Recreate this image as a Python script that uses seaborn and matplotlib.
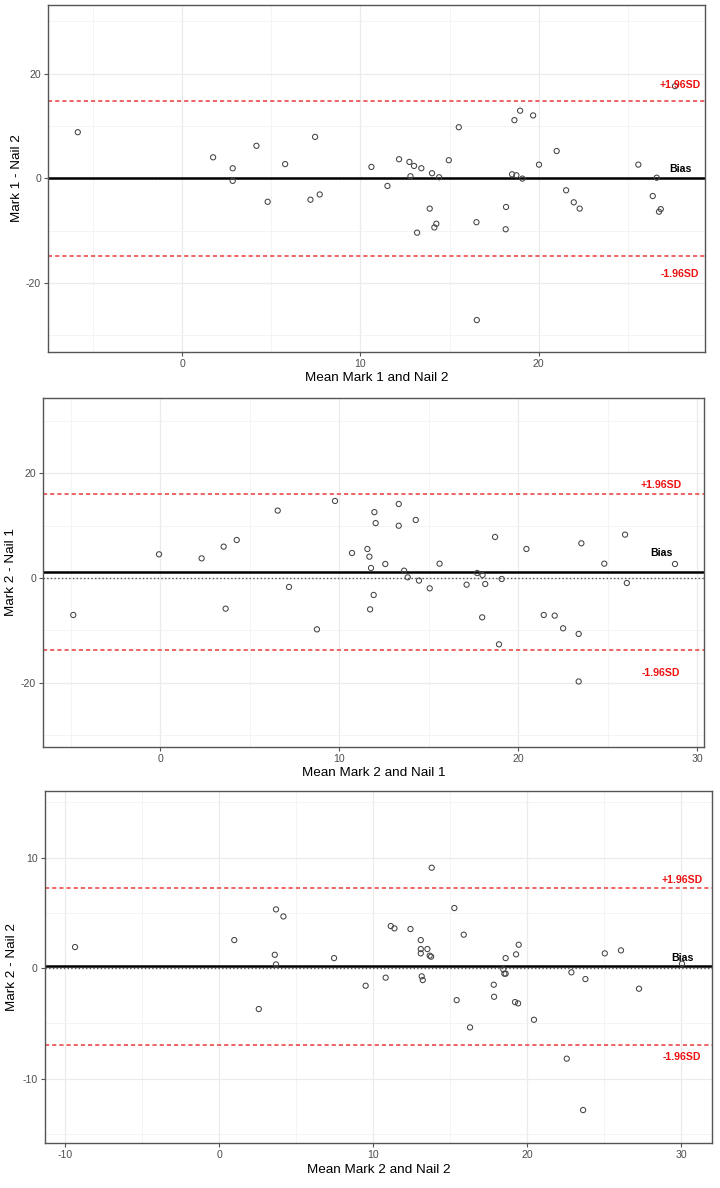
import numpy as np
import pandas as pd
import matplotlib
matplotlib.use("Agg")
import matplotlib.pyplot as plt
from matplotlib.ticker import MultipleLocator
import seaborn as sns

# Panel 1: Mark 1 vs Nail 2
p1_mean = [-5.85, 1.74, 2.84, 2.84, 4.17, 4.8, 5.78, 7.46, 7.2, 7.72,
           10.62, 11.52, 12.17, 12.75, 13.01, 12.81, 13.42, 14.02, 14.42, 13.89,
           14.26, 14.15, 13.18, 14.96, 15.52, 16.51, 16.53, 18.17, 18.15, 18.51,
           18.75, 19.09, 18.64, 18.96, 19.69, 20.02, 21.01, 21.54, 21.97, 22.3,
           25.59, 26.4, 26.62, 26.75, 26.85, 27.65]
p1_diff = [8.8, 4.0, 1.9, -0.5, 6.2, -4.5, 2.7, 7.9, -4.1, -3.1,
           2.16, -1.47, 3.63, 3.12, 2.35, 0.38, 1.91, 0.96, 0.19, -5.8,
           -8.7, -9.4, -10.4, 3.44, 9.75, -8.4, -27.1, -5.49, -9.75, 0.76,
           0.57, -0.07, 11.1, 12.9, 12.0, 2.6, 5.2, -2.3, -4.6, -5.8,
           2.6, -3.4, 0.1, -6.4, -5.9, 17.6]

# Panel 2: Mark 2 vs Nail 1
p2_mean = [-4.86, -0.07, 2.31, 3.54, 4.27, 3.65, 6.56, 7.19, 8.75, 9.76,
           10.71, 11.57, 11.68, 11.77, 11.96, 12.03, 11.92, 11.72, 12.57, 13.32,
           13.32, 13.62, 13.82, 14.27, 14.45, 15.05, 15.6, 17.11, 17.7, 18.0,
           18.15, 17.98, 18.7, 19.07, 18.92, 20.45, 21.42, 22.03, 22.5, 23.37,
           23.37, 23.52, 24.8, 25.96, 26.06, 28.75]
p2_diff = [-7.08, 4.53, 3.76, 6.0, 7.27, -5.87, 12.9, -1.72, -9.83, 14.74,
           4.78, 5.55, 4.08, 1.91, 12.6, 10.5, -3.25, -6.0, 2.68, 14.16,
           10.0, 1.4, 0.13, 11.1, -0.5, -1.98, 2.74, -1.28, 0.95, 0.57,
           -1.15, -7.53, 7.85, -0.19, -12.7, 5.55, -7.08, -7.2, -9.63, -10.7,
           -19.8, 6.64, 2.74, 8.3, -0.96, 2.68]

# Panel 3: Mark 2 vs Nail 2
p3_mean = [-9.35, 0.99, 2.58, 3.7, 4.18, 3.62, 3.7, 7.47, 9.52, 10.82,
           11.15, 11.39, 12.43, 13.1, 13.1, 13.1, 13.53, 13.68, 13.77, 13.16,
           13.23, 13.81, 15.28, 15.43, 15.89, 16.3, 17.84, 17.86, 18.46, 18.53,
           18.61, 18.61, 19.22, 19.42, 19.29, 19.46, 20.45, 22.58, 22.88, 23.64,
           23.79, 25.05, 26.1, 27.27, 30.06]
p3_diff = [1.9, 2.53, -3.71, 5.31, 4.67, 1.2, 0.33, 0.9, -1.6, -0.87,
           3.8, 3.59, 3.53, 2.53, 1.72, 1.33, 1.72, 1.12, 1.03, -0.75,
           -1.09, 9.08, 5.43, -2.9, 3.02, -5.37, -1.51, -2.6, -0.12, -0.51,
           -0.51, 0.9, -3.08, -3.2, 1.24, 2.11, -4.68, -8.2, -0.39, -12.85,
           -1.0, 1.33, 1.6, -1.87, 0.39]

bias = [0.0, 1.18, 0.15]
upper = [14.8, 16.08, 7.27]
lower = [-14.8, -13.72, -6.97]
x_titles = ["Mean Mark 1 and Nail 2", "Mean Mark 2 and Nail 1", "Mean Mark 2 and Nail 2"]
y_titles = ["Mark 1 - Nail 2", "Mark 2 - Nail 1", "Mark 2 - Nail 2"]

# label positions (data units) for +1.96SD / Bias / -1.96SD
label_x = [27.93, 27.97, 30.08]
label_y = [[17.8, 1.8, -18.3], [17.8, 4.85, -18.2], [7.96, 0.88, -8.03]]

# axes boxes in pixels: left, right, top, bottom
boxes = [(48, 705, 5, 352), (43, 704, 397.7, 747.3), (44.7, 712.3, 790.7, 1143.3)]
xlims = [(-7.52, 29.33), (-6.55, 30.37), (-11.32, 32.03)]
ylims = [(-33.2, 33.1), (-32.4, 34.5), (-15.86, 16.05)]
x_major = [10, 10, 10]
y_major = [20, 20, 10]
ylabel_x = [16.7, 11, 12.3]
xtitle_y = [378, 773, 1170]

sns.set_theme(style="whitegrid")
plt.rcParams["font.family"] = ["Liberation Sans", "DejaVu Sans"]
plt.rcParams["axes.unicode_minus"] = False

W, H = 720, 1188
fig = plt.figure(figsize=(W / 100, H / 100), dpi=100)

panels = [(p1_mean, p1_diff), (p2_mean, p2_diff), (p3_mean, p3_diff)]
for i, (mx, dy) in enumerate(panels):
    l, r, t, b = boxes[i]
    ax = fig.add_axes([l / W, 1 - b / H, (r - l) / W, (b - t) / H])
    df = pd.DataFrame({"mean": mx, "diff": dy})

    ax.set_xlim(*xlims[i])
    ax.set_ylim(*ylims[i])
    ax.xaxis.set_major_locator(MultipleLocator(x_major[i]))
    ax.xaxis.set_minor_locator(MultipleLocator(x_major[i] / 2))
    ax.yaxis.set_major_locator(MultipleLocator(y_major[i]))
    ax.yaxis.set_minor_locator(MultipleLocator(y_major[i] / 2))
    ax.grid(which="major", color="#ebebeb", linewidth=0.9)
    ax.grid(which="minor", color="#f2f2f2", linewidth=0.6)
    ax.set_axisbelow(True)
    for s in ax.spines.values():
        s.set_color("#555555")
        s.set_linewidth(1.0)
    ax.tick_params(which="major", length=3, width=0.8, color="#555555",
                   labelsize=7.6, labelcolor="#4d4d4d", pad=2,
                   bottom=True, left=True)
    ax.tick_params(which="minor", length=0)

    ax.axhline(0, color="#555555", linestyle=":", linewidth=1.0, zorder=2)
    ax.axhline(bias[i], color="black", linewidth=1.8, zorder=2)
    ax.axhline(upper[i], color="#ea4b4b", linestyle=(0, (2.5, 1.8)), linewidth=1.2, zorder=2)
    ax.axhline(lower[i], color="#ea4b4b", linestyle=(0, (2.5, 1.8)), linewidth=1.2, zorder=2)

    sns.scatterplot(data=df, x="mean", y="diff", ax=ax, s=14, marker="o",
                    facecolor="none", edgecolor="#444444", linewidth=0.75, zorder=3)

    ax.text(label_x[i], label_y[i][0], "+1.96SD", color="#ee1111", fontsize=7.6,
            fontweight="bold", ha="center", va="center", zorder=4)
    ax.text(label_x[i], label_y[i][1], "Bias", color="black", fontsize=7.6,
            fontweight="bold", ha="center", va="center", zorder=4)
    ax.text(label_x[i], label_y[i][2], "-1.96SD", color="#ee1111", fontsize=7.6,
            fontweight="bold", ha="center", va="center", zorder=4)

    ax.set_xlabel("")
    ax.set_ylabel("")
    fig.text((l + r) / 2 / W, 1 - xtitle_y[i] / H, x_titles[i], ha="center",
             va="center", fontsize=9.7, color="black")
    fig.text(ylabel_x[i] / W, 1 - (t + b) / 2 / H, y_titles[i], ha="center",
             va="center", rotation=90, fontsize=9.7, color="black")

fig.savefig("out.png", dpi=100)
